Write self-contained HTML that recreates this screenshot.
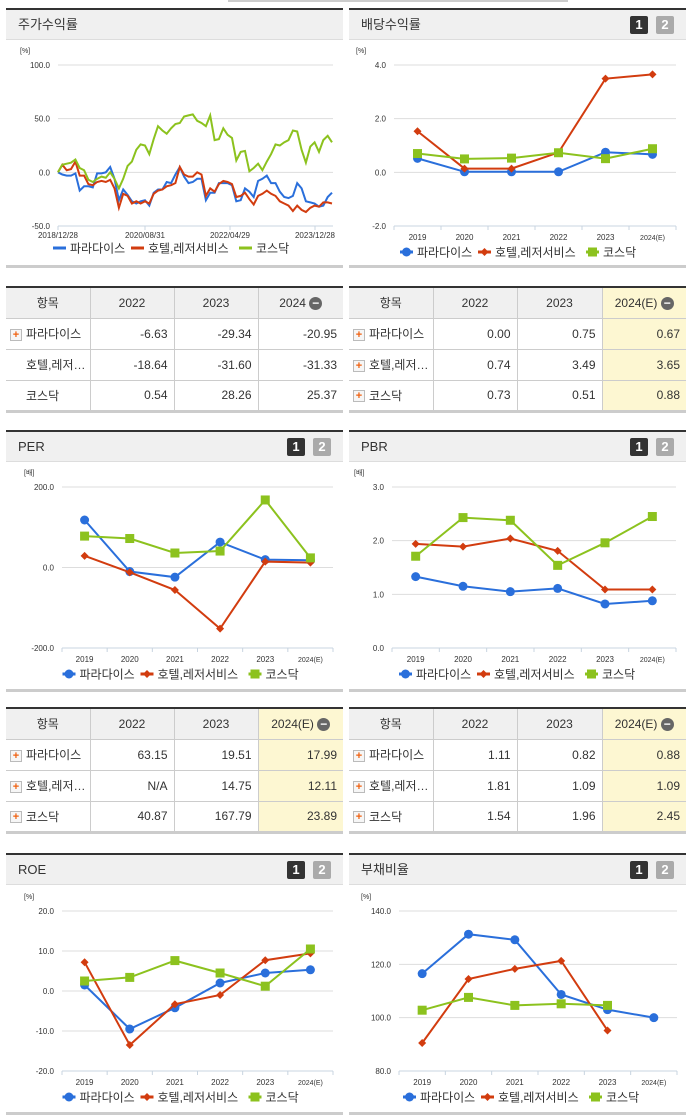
<!DOCTYPE html>
<html><head><meta charset="utf-8">
<style>
*{margin:0;padding:0;box-sizing:border-box}
body{width:691px;height:1115px;background:#fff;position:relative;overflow:hidden;font-family:"Liberation Sans","Noto Sans CJK KR",sans-serif;color:#333}
.panel{position:absolute;border-top:2px solid #333;border-bottom:3px solid #ccc}
.phead{height:30px;background:#f0f0f0;border-bottom:1px solid #ddd;font-size:13px;line-height:30px;padding-left:12px;color:#333;position:relative}
.b1,.b2{position:absolute;top:6px;width:18px;height:18px;font-size:13px;font-weight:bold;color:#fff;text-align:center;line-height:18px;border-radius:2px}
.b1{background:#333;right:38px}.b2{background:#aaa;right:12px}
table{position:absolute;border-collapse:collapse;border-top:2px solid #333;border-bottom:3px solid #ccc;font-size:12px;table-layout:fixed}
td,th{border:1px solid #ccc;height:31px;font-weight:normal}
tr td:first-child,tr th:first-child{border-left:none}
tr td:last-child,tr th:last-child{border-right:none}
th{background:#f0f0f0;text-align:center}
td{text-align:right;padding-right:6px}
td.n{text-align:left;padding-left:4px;white-space:nowrap;overflow:hidden}
td.hl,th.hl{background:#fdf7d2}
.pl{display:inline-block;width:12px;height:12px;border:1px solid #bbb;background:#f6f6f6;color:#f06010;font-size:11px;font-weight:bold;line-height:10px;text-align:center;vertical-align:middle;margin-right:4px}
.sp{display:inline-block;width:16px}
.mi{display:inline-block;width:13px;height:13px;border-radius:50%;background:#666;color:#fff;font-size:12px;line-height:12px;text-align:center;vertical-align:middle;font-weight:bold}
#chart{position:absolute;left:0;top:0}
</style></head><body>
<div style="position:absolute;left:228px;top:0;width:340px;height:2px;background:#ccc"></div>

<div class="panel" style="left:6px;top:8px;width:337px;height:260px"><div class="phead">주가수익률</div></div>
<div class="panel" style="left:349px;top:8px;width:337px;height:260px"><div class="phead">배당수익률<span class="b1">1</span><span class="b2">2</span></div></div>
<div class="panel" style="left:6px;top:430px;width:337px;height:262px"><div class="phead">PER<span class="b1">1</span><span class="b2">2</span></div></div>
<div class="panel" style="left:349px;top:430px;width:337px;height:262px"><div class="phead">PBR<span class="b1">1</span><span class="b2">2</span></div></div>
<div class="panel" style="left:6px;top:853px;width:337px;height:262px"><div class="phead">ROE<span class="b1">1</span><span class="b2">2</span></div></div>
<div class="panel" style="left:349px;top:853px;width:337px;height:262px"><div class="phead">부채비율<span class="b1">1</span><span class="b2">2</span></div></div>

<table style="left:6px;top:286px;width:337px">
<colgroup><col style="width:84px"><col style="width:84px"><col style="width:84px"><col></colgroup>
<tr><th>항목</th><th>2022</th><th>2023</th><th>2024 <span class="mi">−</span></th></tr>
<tr><td class="n"><span class="pl">+</span>파라다이스</td><td>-6.63</td><td>-29.34</td><td>-20.95</td></tr>
<tr><td class="n"><span class="sp"></span>호텔,레저…</td><td>-18.64</td><td>-31.60</td><td>-31.33</td></tr>
<tr><td class="n"><span class="sp"></span>코스닥</td><td>0.54</td><td>28.26</td><td>25.37</td></tr>
</table>
<table style="left:349px;top:286px;width:337px">
<colgroup><col style="width:84px"><col style="width:84px"><col style="width:85px"><col></colgroup>
<tr><th>항목</th><th>2022</th><th>2023</th><th class="hl">2024(E) <span class="mi">−</span></th></tr>
<tr><td class="n"><span class="pl">+</span>파라다이스</td><td>0.00</td><td>0.75</td><td class="hl">0.67</td></tr>
<tr><td class="n"><span class="pl">+</span>호텔,레저…</td><td>0.74</td><td>3.49</td><td class="hl">3.65</td></tr>
<tr><td class="n"><span class="pl">+</span>코스닥</td><td>0.73</td><td>0.51</td><td class="hl">0.88</td></tr>
</table>
<table style="left:6px;top:707px;width:337px">
<colgroup><col style="width:84px"><col style="width:84px"><col style="width:84px"><col></colgroup>
<tr><th>항목</th><th>2022</th><th>2023</th><th class="hl">2024(E) <span class="mi">−</span></th></tr>
<tr><td class="n"><span class="pl">+</span>파라다이스</td><td>63.15</td><td>19.51</td><td class="hl">17.99</td></tr>
<tr><td class="n"><span class="pl">+</span>호텔,레저…</td><td>N/A</td><td>14.75</td><td class="hl">12.11</td></tr>
<tr><td class="n"><span class="pl">+</span>코스닥</td><td>40.87</td><td>167.79</td><td class="hl">23.89</td></tr>
</table>
<table style="left:349px;top:707px;width:337px">
<colgroup><col style="width:84px"><col style="width:84px"><col style="width:85px"><col></colgroup>
<tr><th>항목</th><th>2022</th><th>2023</th><th class="hl">2024(E) <span class="mi">−</span></th></tr>
<tr><td class="n"><span class="pl">+</span>파라다이스</td><td>1.11</td><td>0.82</td><td class="hl">0.88</td></tr>
<tr><td class="n"><span class="pl">+</span>호텔,레저…</td><td>1.81</td><td>1.09</td><td class="hl">1.09</td></tr>
<tr><td class="n"><span class="pl">+</span>코스닥</td><td>1.54</td><td>1.96</td><td class="hl">2.45</td></tr>
</table>

<svg id="chart" width="691" height="1115"></svg>

<script>
// ---- data ----
const years = ["2019","2020","2021","2022","2023","2024(E)"];
const seriesNames = ["파라다이스","호텔,레저서비스","코스닥"];
const stockDates = ["2018/12/28","2020/08/31","2022/04/29","2023/12/28"];
const stockP = [0,-2,-3,-3,-1,-17,-13,-13,-14,-1,-1,0,5,-6,-26,-16,-21,-27,-29,-27,-26,-31,-19,-16,-16,-9,-10,-2,5,-4,-10,-9,-6,-6,-26,-19,-19,-10,-10,-10,-12,-27,-26,-15,-18,-23,-8,-6,-3,-10,-10,-18,-23,-24,-22,-10,-15,-27,-28,-29,-32,-31,-23,-19];
const stockH = [0,7,2,3,10,-3,-3,-11,-12,-9,-8,-9,-7,-15,-33,-20,-22,-29,-27,-29,-27,-29,-20,-17,-16,-13,-12,-10,5,-2,-4,-4,0,-2,-22,-15,-18,-11,-8,-9,-11,-23,-22,-19,-25,-30,-22,-20,-17,-20,-22,-27,-29,-31,-36,-31,-35,-37,-33,-31,-32,-28,-28,-29];
const stockK = [0,7,8,9,12,4,2,-7,-9,-6,-4,-5,0,-6,-15,-6,6,10,21,26,25,17,31,43,39,36,41,45,46,52,53,54,48,46,43,53,30,31,41,35,32,11,19,20,1,4,8,2,10,17,26,25,28,30,39,38,21,9,24,28,19,30,34,28];
const stockTicks = [100,50,0,-50];
const divP = [0.52,0.02,0.02,0.02,0.75,0.67];
const divH = [1.53,0.14,0.14,0.74,3.49,3.65];
const divK = [0.70,0.50,0.53,0.73,0.51,0.88];
const divTicks = [4,2,0,-2];
const perP = [118,-10,-24,63.15,19.51,17.99];
const perH = [29,-12,-56,-152,14.75,12.11];
const perK = [78,72,36,40.87,167.79,23.89];
const perTicks = [200,0,-200];
const pbrP = [1.33,1.15,1.05,1.11,0.82,0.88];
const pbrH = [1.94,1.89,2.04,1.81,1.09,1.09];
const pbrK = [1.71,2.43,2.38,1.54,1.96,2.45];
const pbrTicks = [3,2,1,0];
const roeP = [1.5,-9.5,-4.2,2.0,4.5,5.3];
const roeH = [7.2,-13.5,-3.3,-1.0,7.7,9.4];
const roeK = [2.5,3.4,7.6,4.5,1.2,10.5];
const roeTicks = [20,10,0,-10,-20];
const debtP = [116.5,131.3,129.2,108.7,103.0,100.0];
const debtH = [90.5,114.5,118.3,121.3,95.2,null];
const debtK = [102.8,107.6,104.6,105.2,104.6,null];
const debtTicks = [140,120,100,80];

const COLORS=["#2a6fdb","#d23c0f","#8cc21e"];
const NS="http://www.w3.org/2000/svg";
const svg=document.getElementById('chart');
function mk(tag,attrs,parent){const e=document.createElementNS(NS,tag);for(const k in attrs)e.setAttribute(k,attrs[k]);(parent||svg).appendChild(e);return e;}
function txt(x,y,s,size,anchor,g){const t=mk('text',{x:x,y:y,'font-size':size,'text-anchor':anchor||'start',fill:'#333','font-family':'"Liberation Sans","Noto Sans CJK KR",sans-serif'},g);t.textContent=s;return t;}

function marker(g,i,x,y){
  let m;
  if(i===0) m=mk('circle',{cx:x,cy:y,r:4.5,fill:COLORS[0]},g);
  else if(i===1) m=mk('path',{d:`M${x} ${y-4}L${x+4} ${y}L${x} ${y+4}L${x-4} ${y}Z`,fill:COLORS[1]},g);
  else m=mk('rect',{x:x-4.5,y:y-4.5,width:9,height:9,fill:COLORS[2]},g);
  
  
}

function axisChart(o){
  const g=mk('g',{});
  
  
  const tmax=o.ticks[0],tmin=o.ticks[o.ticks.length-1];
  const yS=v=>o.yTop+(tmax-v)/(tmax-tmin)*(o.yBot-o.yTop);
  o.ticks.forEach((t,i)=>{
    const y=yS(t);
    if(i<o.ticks.length-1){const l=mk('line',{x1:o.x0,x2:o.x1,y1:y,y2:y,stroke:'#ddd','stroke-width':1},g);}
    const tl=txt(o.x0-8,y+3,t.toFixed(1),8,'end',g);
    
  });
  const ax=mk('line',{x1:o.x0,x2:o.x1,y1:o.yBot,y2:o.yBot,stroke:'#c8d4e0','stroke-width':1},g);
  
  const u=txt(o.x0-38,o.yTop-12,o.unit,7,'start',g);
  
  return {g,yS};
}

function legend(g,cx,y,lineOnly){
  const widths=[78,108,52];const total=widths.reduce((a,b)=>a+b,0);
  let x=cx-total/2;
  seriesNames.forEach((n,i)=>{
    const lg=mk('g',{},g);
    
    
    mk('line',{x1:x,x2:x+13,y1:y,y2:y,stroke:COLORS[i],'stroke-width':3},lg);
    if(!lineOnly) marker(lg,i,x+6.5,y);
    txt(x+17,y+4.5,n,12,'start',lg);
    x+=widths[i];
  });
}

function yearChart(o){
  const {g,yS}=axisChart(o);
  const bw=(o.x1-o.x0)/years.length;
  const xS=i=>o.x0+bw*(i+0.5);
  for(let i=0;i<=years.length;i++){const t=mk('line',{x1:o.x0+bw*i,x2:o.x0+bw*i,y1:o.yBot,y2:o.yBot+4,stroke:'#c8d4e0'},g);}
  years.forEach((yv,i)=>{const t=txt(xS(i),o.yBot+14,yv,yv.length>4?7:8,'middle',g);});
  o.series.forEach((s,si)=>{
    let d='';let pen=false;
    s.forEach((v,i)=>{if(v==null){pen=false;return;}d+=(pen?'L':'M')+xS(i)+' '+yS(v);pen=true;});
    const p=mk('path',{d:d,fill:'none',stroke:COLORS[si],'stroke-width':2},g);
    
    
    s.forEach((v,i)=>{if(v!=null)marker(g,si,xS(i),yS(v));});
  });
  legend(g,(o.x0+o.x1)/2-16,o.yBot+26,false);
}

// stock chart
(function(){
  const o={name:'stock-return-chart',x0:58,x1:333,yTop:65,yBot:226,ticks:stockTicks,unit:'[%]'};
  const {g,yS}=axisChart(o);
  const n=stockP.length;const xS=i=>o.x0+(o.x1-o.x0-1)*i/(n-1);
  const tickX=[58,145,230,315];
  stockDates.forEach((d,i)=>{
    const t=mk('line',{x1:tickX[i],x2:tickX[i],y1:o.yBot,y2:o.yBot+4,stroke:'#c8d4e0'},g);
    
    const l=txt(tickX[i],o.yBot+12,d,8,'middle',g);
    
  });
  [stockP,stockH,stockK].forEach((s,si)=>{
    const p=mk('path',{d:s.map((v,i)=>(i?'L':'M')+xS(i).toFixed(1)+' '+yS(v).toFixed(1)).join(''),fill:'none',stroke:COLORS[si],'stroke-width':2},g);
    
    
  });
  legend(g,172,248,true);
})();

yearChart({name:'dividend-chart',x0:394,x1:676,yTop:65,yBot:226,ticks:divTicks,unit:'[%]',series:[divP,divH,divK]});
yearChart({name:'per-chart',x0:62,x1:333,yTop:487,yBot:648,ticks:perTicks,unit:'[배]',series:[perP,perH,perK]});
yearChart({name:'pbr-chart',x0:392,x1:676,yTop:487,yBot:648,ticks:pbrTicks,unit:'[배]',series:[pbrP,pbrH,pbrK]});
yearChart({name:'roe-chart',x0:62,x1:333,yTop:911,yBot:1071,ticks:roeTicks,unit:'[%]',series:[roeP,roeH,roeK]});
yearChart({name:'debt-ratio-chart',x0:399,x1:677,yTop:911,yBot:1071,ticks:debtTicks,unit:'[%]',series:[debtP,debtH,debtK]});
</script>
</body></html>
